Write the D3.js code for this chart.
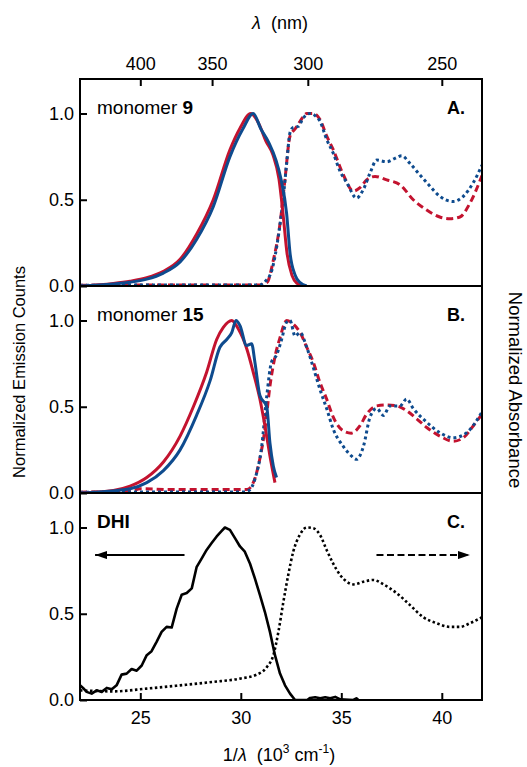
<!DOCTYPE html>
<html>
<head>
<meta charset="utf-8">
<script src="https://cdn.jsdelivr.net/npm/d3@7"></script>
<style>
  body { margin: 0; background: #fff; }
  svg { font-family: "Liberation Sans", Arial, sans-serif; }
</style>
</head>
<body>
<svg id="chart" width="527" height="767"></svg>
<script>
// values: [1/lambda (10^3 cm-1), normalized value]
const emA_red = [[22,0],[23.66,0.015],[24.49,0.028],[25.32,0.048],[26.15,0.085],[26.98,0.155],[27.8,0.3],[28.63,0.5],[29.46,0.79],[29.96,0.915],[30.5,1.0],[30.9,0.94],[31.25,0.84],[31.6,0.76],[31.9,0.62],[32.1,0.42],[32.3,0.19],[32.55,0.06],[32.8,0.015],[33.1,0]];
const emA_blue = [[22,0],[23.66,0.012],[24.49,0.022],[25.32,0.04],[26.15,0.075],[26.98,0.14],[27.8,0.27],[28.63,0.46],[29.46,0.75],[30.1,0.91],[30.62,1.0],[31.0,0.91],[31.4,0.83],[31.75,0.73],[32.0,0.62],[32.28,0.42],[32.45,0.19],[32.7,0.064],[32.95,0.02],[33.28,0]];
const abA_red = [[22,0.005],[30.9,0.006],[31.3,0.02],[31.62,0.15],[31.95,0.36],[32.2,0.62],[32.45,0.87],[32.7,0.91],[32.95,0.955],[33.28,1.0],[33.6,1.0],[33.94,0.965],[34.27,0.87],[34.6,0.79],[35.1,0.645],[35.6,0.55],[35.93,0.57],[36.26,0.615],[36.68,0.635],[37.26,0.615],[37.92,0.587],[38.58,0.5],[39.25,0.44],[39.9,0.4],[40.4,0.39],[40.9,0.4],[41.4,0.48],[42,0.64]];
const abA_blue = [[22,0.005],[30.95,0.006],[31.2,0.025],[31.54,0.09],[31.87,0.29],[32.12,0.52],[32.28,0.71],[32.45,0.89],[32.61,0.92],[32.86,0.925],[33.11,0.975],[33.44,1.0],[33.77,0.98],[33.94,0.955],[34.27,0.85],[34.6,0.77],[34.94,0.665],[35.27,0.6],[35.76,0.51],[36.1,0.56],[36.43,0.655],[36.76,0.73],[37.26,0.72],[37.67,0.74],[38.0,0.755],[38.42,0.71],[38.9,0.645],[39.4,0.58],[39.9,0.52],[40.57,0.49],[41.07,0.52],[41.57,0.6],[42,0.7]];

const emB_red = [[22,0],[23.66,0.015],[24.49,0.04],[25.32,0.09],[26.15,0.18],[26.98,0.33],[27.64,0.5],[28.3,0.7],[28.8,0.89],[29.13,0.96],[29.55,1.0],[29.88,0.95],[30.3,0.835],[30.62,0.7],[30.95,0.545],[31.2,0.39],[31.45,0.215],[31.7,0.06]];
const emB_blue = [[22,0],[24.49,0.025],[25.32,0.06],[26.15,0.13],[26.98,0.25],[27.8,0.45],[28.47,0.65],[28.96,0.845],[29.3,0.89],[29.55,0.93],[29.76,1.0],[29.96,0.97],[30.29,0.855],[30.54,0.865],[30.7,0.76],[30.95,0.565],[31.29,0.5],[31.45,0.29],[31.62,0.155],[31.78,0.09]];
const abB_red = [[22,0.005],[24.5,0.01],[25.0,0.025],[26.5,0.02],[28.0,0.02],[30.3,0.02],[30.62,0.06],[30.95,0.2],[31.2,0.37],[31.45,0.62],[31.7,0.79],[31.95,0.9],[32.28,1.0],[32.6,0.98],[32.95,0.93],[33.28,0.845],[33.6,0.76],[33.94,0.64],[34.27,0.545],[34.6,0.44],[35.1,0.36],[35.5,0.347],[35.93,0.39],[36.26,0.457],[36.76,0.505],[37.26,0.51],[37.75,0.505],[38.25,0.477],[38.75,0.43],[39.25,0.38],[39.9,0.33],[40.57,0.3],[41.07,0.32],[41.57,0.39],[42,0.457]];
const abB_blue = [[22,0.005],[30.2,0.006],[30.46,0.02],[30.7,0.08],[31.04,0.27],[31.29,0.56],[31.53,0.76],[31.78,0.8],[32.03,0.89],[32.28,0.99],[32.45,1.0],[32.7,0.91],[32.95,0.93],[33.28,0.845],[33.6,0.73],[33.94,0.6],[34.27,0.49],[34.6,0.37],[35.1,0.27],[35.5,0.215],[35.76,0.195],[36.1,0.27],[36.43,0.44],[36.76,0.49],[37.1,0.45],[37.42,0.505],[37.92,0.505],[38.25,0.545],[38.58,0.49],[39.25,0.41],[39.9,0.35],[40.57,0.32],[41.24,0.35],[42,0.47]];

const emC = [[22.0,0.085],[22.15,0.07],[22.33,0.047],[22.58,0.037],[22.83,0.056],[23.08,0.047],[23.33,0.07],[23.58,0.062],[23.82,0.085],[24.07,0.147],[24.32,0.153],[24.57,0.18],[24.82,0.17],[25.07,0.2],[25.32,0.26],[25.56,0.283],[25.81,0.337],[26.06,0.395],[26.31,0.424],[26.56,0.42],[26.81,0.53],[27.06,0.61],[27.31,0.62],[27.56,0.647],[27.8,0.77],[28.05,0.82],[28.3,0.87],[28.55,0.91],[28.8,0.948],[29.05,0.98],[29.21,1.0],[29.46,0.986],[29.71,0.938],[29.96,0.89],[30.2,0.86],[30.46,0.79],[30.7,0.705],[30.95,0.61],[31.2,0.51],[31.45,0.395],[31.7,0.26],[31.95,0.153],[32.2,0.085],[32.45,0.037],[32.7,0.0],[33.3,0.0],[33.45,0.012],[33.7,0.016],[33.95,0.01],[34.2,0.016],[34.45,0.01],[34.7,0.018],[34.95,0.004],[35.6,0.0],[35.75,0.01],[35.85,0]];
const abC = [[22,0.056],[23.66,0.05],[25.32,0.066],[26.98,0.085],[28.63,0.105],[29.96,0.124],[30.79,0.147],[31.29,0.19],[31.62,0.26],[31.87,0.395],[32.12,0.57],[32.36,0.725],[32.61,0.86],[32.95,0.96],[33.28,1.0],[33.6,0.996],[33.94,0.957],[34.27,0.87],[34.6,0.79],[34.94,0.725],[35.27,0.686],[35.6,0.67],[36.1,0.686],[36.6,0.696],[37.1,0.67],[37.75,0.62],[38.42,0.55],[39.08,0.48],[39.74,0.445],[40.4,0.424],[40.9,0.424],[41.4,0.445],[42,0.48]];

const yTicks = [0, 0.5, 1.0];
const xTicks = [25, 30, 35, 40];
const nmTicks = [400, 350, 300, 250];
// arrows in panel C: [x from, x to, y]
const arrowC = [[27.2, 22.75, 0.84, "solid"], [36.75, 41.4, 0.84, "dashed"]];

const red = "#c3132f";
const blue = "#0e4b8e";

const svg = d3.select("#chart");
const plotL = 80, plotR = 482, plotT = 79, panelH = 207;

const x = d3.scaleLinear().domain([22, 42]).range([plotL, plotR]);

const panels = [
  { label: "monomer ", bold: "9", tag: "A.", series: [
    { d: abA_red, c: red, dash: "7,4", curve: d3.curveMonotoneX },
    { d: abA_blue, c: blue, dash: "3,3", curve: d3.curveMonotoneX },
    { d: emA_red, c: red, dash: null, curve: d3.curveMonotoneX },
    { d: emA_blue, c: blue, dash: null, curve: d3.curveMonotoneX }] },
  { label: "monomer ", bold: "15", tag: "B.", series: [
    { d: abB_red, c: red, dash: "7,4", curve: d3.curveMonotoneX },
    { d: abB_blue, c: blue, dash: "3,3", curve: d3.curveMonotoneX },
    { d: emB_red, c: red, dash: null, curve: d3.curveMonotoneX },
    { d: emB_blue, c: blue, dash: null, curve: d3.curveMonotoneX }] },
  { label: "", bold: "DHI", tag: "C.", series: [
    { d: abC, c: "#000", dash: "2.5,2.5", curve: d3.curveMonotoneX },
    { d: emC, c: "#000", dash: null, curve: d3.curveLinear }] }
];

// arrowhead
svg.append("defs").append("marker")
  .attr("id", "head")
  .attr("viewBox", "0 0 12 8")
  .attr("refX", 12).attr("refY", 4)
  .attr("markerWidth", 12).attr("markerHeight", 8)
  .attr("markerUnits", "userSpaceOnUse")
  .attr("orient", "auto")
  .append("path").attr("d", "M0,0L12,4L0,8Z").attr("fill", "#000");

panels.forEach(function (p, i) {
  const y0 = plotT + i * panelH;
  const y = d3.scaleLinear().domain([0, 1.2]).range([y0 + panelH, y0]);

  svg.append("clipPath").attr("id", "clip" + i)
    .append("rect").attr("x", plotL).attr("y", y0).attr("width", plotR - plotL).attr("height", panelH);

  const g = svg.append("g").attr("clip-path", "url(#clip" + i + ")");
  p.series.forEach(function (s) {
    const line = d3.line().x(d => x(d[0])).y(d => y(d[1])).curve(s.curve);
    g.append("path")
      .datum(s.d)
      .attr("d", line)
      .attr("fill", "none")
      .attr("stroke", s.c)
      .attr("stroke-width", s.c === "#000" ? 2.6 : 3)
      .attr("stroke-linejoin", "round")
      .attr("stroke-dasharray", s.dash);
  });

  // y axis with inward ticks
  const ax = svg.append("g")
    .attr("transform", "translate(" + plotL + ",0)")
    .call(d3.axisLeft(y).tickValues(yTicks).tickFormat(d3.format(".1f")).tickSize(-7).tickPadding(6));
  ax.select(".domain").remove();
  ax.selectAll(".tick line").attr("stroke-width", 2);
  ax.selectAll("text").attr("font-size", 18).attr("fill", "#000").attr("font-family", null);

  const lbl = svg.append("text")
    .attr("x", 97).attr("y", y0 + 35)
    .attr("font-size", 19);
  lbl.append("tspan").text(p.label);
  lbl.append("tspan").attr("font-weight", "bold").text(p.bold);

  svg.append("text")
    .attr("x", 465).attr("y", y0 + 35)
    .attr("text-anchor", "end")
    .attr("font-size", 18).attr("font-weight", "bold")
    .text(p.tag);

  if (i > 0) {
    svg.append("line")
      .attr("x1", plotL).attr("x2", plotR)
      .attr("y1", y0).attr("y2", y0)
      .attr("stroke", "#000").attr("stroke-width", 2);
  }

  if (i === 2) {
    arrowC.forEach(function (a) {
      svg.append("line")
        .attr("x1", x(a[0])).attr("x2", x(a[1]))
        .attr("y1", y(a[2])).attr("y2", y(a[2]))
        .attr("stroke", "#000").attr("stroke-width", 2)
        .attr("stroke-dasharray", a[3] === "dashed" ? "7,3.5" : null)
        .attr("marker-end", "url(#head)");
    });
  }
});

const plotB = plotT + 3 * panelH;

// bottom axis
const bx = svg.append("g")
  .attr("transform", "translate(0," + plotB + ")")
  .call(d3.axisBottom(x).tickValues(xTicks).tickSize(-7).tickPadding(11));
bx.select(".domain").remove();
bx.selectAll(".tick line").attr("stroke-width", 2);
bx.selectAll("text").attr("font-size", 18).attr("fill", "#000").attr("font-family", null);

// top axis in nm
const tx = svg.append("g")
  .attr("transform", "translate(0," + plotT + ")")
  .call(d3.axisTop(x).tickValues(nmTicks.map(l => 1e4 / l)).tickFormat((d, i) => nmTicks[i]).tickSize(-7).tickPadding(9));
tx.select(".domain").remove();
tx.selectAll(".tick line").attr("stroke-width", 2);
tx.selectAll("text").attr("font-size", 18).attr("fill", "#000").attr("font-family", null);

// frame
svg.append("rect")
  .attr("x", plotL).attr("y", plotT)
  .attr("width", plotR - plotL).attr("height", plotB - plotT)
  .attr("fill", "none").attr("stroke", "#000").attr("stroke-width", 2);

// titles
const tt = svg.append("text").attr("x", 280).attr("y", 29).attr("text-anchor", "middle").attr("font-size", 18);
tt.append("tspan").attr("font-style", "italic").text("λ");
tt.append("tspan").text("\u00a0\u00a0(nm)");

const bt = svg.append("text").attr("x", 279).attr("y", 761).attr("text-anchor", "middle").attr("font-size", 18);
bt.append("tspan").text("1/");
bt.append("tspan").attr("font-style", "italic").text("λ");
bt.append("tspan").text("\u00a0\u00a0(10");
bt.append("tspan").attr("font-size", 12).attr("dy", -8).text("3");
bt.append("tspan").attr("dy", 8).text("\u00a0cm");
bt.append("tspan").attr("font-size", 12).attr("dy", -8).text("-1");
bt.append("tspan").attr("dy", 8).text(")");

svg.append("text")
  .attr("transform", "translate(25,372) rotate(-90)")
  .attr("text-anchor", "middle").attr("font-size", 16.5)
  .text("Normalized Emission Counts");

svg.append("text")
  .attr("transform", "translate(509,390) rotate(90)")
  .attr("text-anchor", "middle").attr("font-size", 18.5)
  .text("Normalized Absorbance");
</script>
</body>
</html>
